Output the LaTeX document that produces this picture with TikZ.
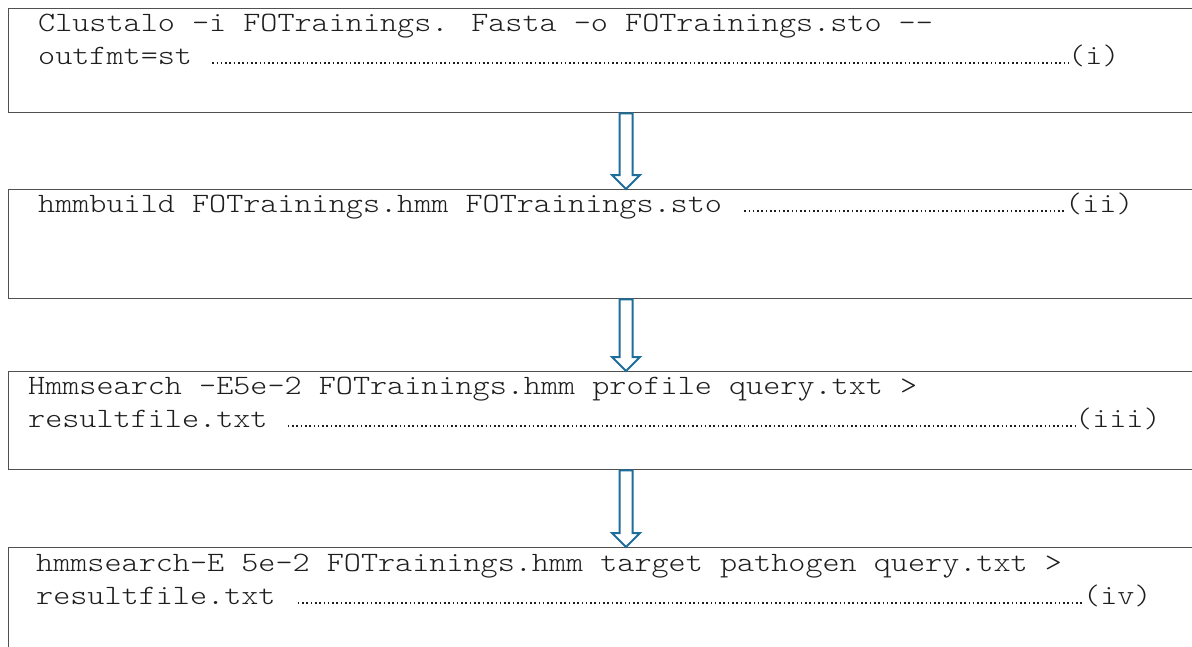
\documentclass[tikz,border=0pt]{standalone}
\usepackage{fontspec}
\usetikzlibrary{calc}
\newfontfamily\cmdfont[FakeStretch=1.163]{Latin Modern Mono Light}
\definecolor{boxline}{RGB}{80,80,80}
\definecolor{arrowblue}{RGB}{30,110,155}
\definecolor{txt}{RGB}{30,30,30}
\tikzset{
  box/.style={draw=boxline, line width=1.4pt, rectangle, inner sep=0pt, anchor=north west, minimum width=1230pt},
  cmd/.style={anchor=base west, inner sep=0pt, text=txt, font=\cmdfont\fontsize{28}{33}\selectfont},
  leader/.style={line width=1.9pt, dash pattern=on 1.6pt off 2.7pt, txt},
  hollow/.style={draw=arrowblue, line width=2pt, fill=white, line join=miter}
}
\newcommand{\hollowarrow}[2]{%
  \draw[hollow] let \p1=(#1), \p2=(#2) in
    (\x1-6.5pt,\y1) -- (\x1+6.5pt,\y1) -- (\x1+6.5pt,\y2+14pt) -- (\x1+14pt,\y2+14pt)
    -- (\x1,\y2) -- (\x1-14pt,\y2+14pt) -- (\x1-6.5pt,\y2+14pt) -- cycle;}
\begin{document}
\begin{tikzpicture}[x=1pt,y=-1pt]
\useasboundingbox (0,0) rectangle (1192,646);
\clip (0,0) rectangle (1192,646);
\fill[white] (0,0) rectangle (1192,646);
% boxes
\node[box, minimum height=104pt] (b1) at (8,8) {};
\node[box, minimum height=109pt] (b2) at (8,189) {};
\node[box, minimum height=98pt]  (b3) at (8,371) {};
\node[box, minimum height=130pt] (b4) at (8,547) {};
% arrows
\coordinate (ax) at (626,0);
\hollowarrow{b1.south -| ax}{b2.north -| ax}
\hollowarrow{b2.south -| ax}{b3.north -| ax}
\hollowarrow{b3.south -| ax}{b4.north -| ax}
% box 1
\node[cmd] (t1a) at (38,31) {Clustalo -i FOTrainings. Fasta -o FOTrainings.sto --};
\node[cmd] (t1b) at (38,64) {outfmt=st};
\node[cmd] (n1) at (1068,64) {(i)};
\draw[leader] ($(t1b.base east)+(20,-1)$) -- ($(n1.base west)+(0,-1)$);
% box 2
\node[cmd] (t2a) at (38,212) {hmmbuild FOTrainings.hmm FOTrainings.sto};
\node[cmd] (n2) at (1065,212) {(ii)};
\draw[leader] ($(t2a.base east)+(22,-1)$) -- ($(n2.base west)+(0,-1)$);
% box 3
\node[cmd] (t3a) at (28,394) {Hmmsearch -E5e-2 FOTrainings.hmm profile query.txt >};
\node[cmd] (t3b) at (28,427) {resultfile.txt};
\node[cmd] (n3) at (1075,427) {(iii)};
\draw[leader] ($(t3b.base east)+(20,-1)$) -- ($(n3.base west)+(0,-1)$);
% box 4
\node[cmd] (t4a) at (36,571) {hmmsearch-E 5e-2 FOTrainings.hmm target pathogen query.txt >};
\node[cmd] (t4b) at (36,604) {resultfile.txt};
\node[cmd] (n4) at (1083,604) {(iv)};
\draw[leader] ($(t4b.base east)+(22,-1)$) -- ($(n4.base west)+(0,-1)$);
\end{tikzpicture}
\end{document}
